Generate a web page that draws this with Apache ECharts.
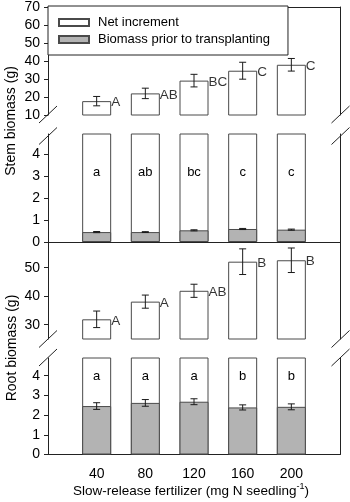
<!DOCTYPE html>
<html><head><meta charset="utf-8">
<script src="https://cdn.jsdelivr.net/npm/echarts@6/dist/echarts.min.js"></script>
<style>html,body{margin:0;padding:0;background:#fff}#c{width:350px;height:502px}</style>
</head><body><div id="c"></div>
<script>
// ---- data ----
const xValues = [40, 80, 120, 160, 200];
const xTickLabels = [40, 80, 120, 160, 200];
const stemTotal = [17.7, 22.0, 29.1, 34.6, 37.9];
const stemTotalErr = [2.6, 2.9, 3.5, 4.7, 3.5];
const stemPrior = [0.45, 0.45, 0.53, 0.59, 0.56];
const stemPriorErr = [0.025, 0.02, 0.025, 0.025, 0.025];
const stemTotalLetters = ['A', 'AB', 'BC', 'C', 'C'];
const stemPriorLetters = ['a', 'ab', 'bc', 'c', 'c'];
const rootTotal = [31.9, 38.1, 41.9, 52.1, 52.6];
const rootTotalErr = [2.9, 2.3, 2.3, 4.5, 4.3];
const rootPrior = [2.46, 2.62, 2.68, 2.39, 2.42];
const rootPriorErr = [0.17, 0.17, 0.15, 0.13, 0.15];
const rootTotalLetters = ['A', 'A', 'AB', 'B', 'B'];
const rootPriorLetters = ['a', 'a', 'a', 'b', 'b'];
const stemUpperTicks = [10, 20, 30, 40, 50, 60, 70];
const lowerTicks = [0, 1, 2, 3, 4];
const rootUpperTicks = [30, 40, 50];

const FF = '"Liberation Sans", Arial, sans-serif';
const AX = '#222';
const BORDER = '#4a4a4a';
const GRAY = '#b3b3b3';
const NET = 'Net increment';
const PRIOR = 'Biomass prior to transplanting';

const grids = [
  {left: 48, top: 6, width: 292, height: 109},
  {left: 48, top: 134, width: 292, height: 108},
  {left: 48, top: 242, width: 292, height: 97},
  {left: 48, top: 358, width: 292, height: 96.5}
];
const yRanges = [[10, 70, stemUpperTicks], [0, 4.9, lowerTicks], [25, 59, rootUpperTicks], [0, 4.9, lowerTicks]];

const xAxes = grids.map((g, i) => ({
  type: 'value', gridIndex: i, min: 0, max: 240,
  position: i === 0 ? 'top' : 'bottom',
  axisLine: {show: i !== 2, onZero: false, lineStyle: {color: AX}},
  axisTick: {show: false},
  splitLine: {show: false},
  axisLabel: i === 3 ? {show: true, customValues: xTickLabels, margin: 13, color: '#000', fontSize: 14, fontFamily: FF} : {show: false}
}));
const yAxes = [];
yRanges.forEach((r, i) => {
  yAxes.push({
    type: 'value', gridIndex: i, min: r[0], max: r[1], position: 'left',
    axisLine: {show: true, onZero: false, lineStyle: {color: AX}},
    axisTick: {show: true, length: 4, customValues: r[2], lineStyle: {color: AX}},
    axisLabel: {customValues: r[2], margin: 8, color: '#000', fontSize: 14, fontFamily: FF},
    splitLine: {show: false}
  });
  yAxes.push({
    type: 'value', gridIndex: i, min: r[0], max: r[1], position: 'right',
    axisLine: {show: true, onZero: false, lineStyle: {color: AX}},
    axisTick: {show: false}, axisLabel: {show: false}, splitLine: {show: false}
  });
});

function errSeries(gi, vals, errs) {
  return {
    type: 'custom', xAxisIndex: gi, yAxisIndex: gi * 2, z: 5, silent: true,
    data: xValues.map((x, i) => [x, vals[i], errs[i]]),
    encode: {x: 0, y: 1},
    renderItem: function (params, api) {
      const x = api.value(0), y = api.value(1), e = api.value(2);
      const p1 = api.coord([x, y + e]), p2 = api.coord([x, y - e]);
      const hw = 3.5, st = {stroke: '#1a1a1a', lineWidth: 1};
      return {type: 'group', children: [
        {type: 'line', shape: {x1: p1[0], y1: p1[1], x2: p2[0], y2: p2[1]}, style: st},
        {type: 'line', shape: {x1: p1[0] - hw, y1: p1[1], x2: p1[0] + hw, y2: p1[1]}, style: st},
        {type: 'line', shape: {x1: p2[0] - hw, y1: p2[1], x2: p2[0] + hw, y2: p2[1]}, style: st}
      ]};
    }
  };
}
function netBars(gi, totals, innerLetters, dist) {
  return {
    type: 'bar', name: NET, xAxisIndex: gi, yAxisIndex: gi * 2, barWidth: 29, barGap: '-100%',
    clip: true,
    itemStyle: {color: '#fff', borderColor: BORDER, borderWidth: 1},
    label: innerLetters ? {show: true, position: 'insideTop', distance: dist, color: '#000', fontSize: 13, fontFamily: FF,
      formatter: p => innerLetters[p.dataIndex]} : {show: false},
    data: xValues.map((x, i) => [x, totals[i]])
  };
}
function priorBars(gi, vals) {
  return {
    type: 'bar', name: PRIOR, xAxisIndex: gi, yAxisIndex: gi * 2, barWidth: 29, barGap: '-100%',
    clip: true,
    itemStyle: {color: GRAY, borderColor: BORDER, borderWidth: 1},
    data: xValues.map((x, i) => [x, vals[i]])
  };
}
function letterSeries(gi, totals, letters) {
  return {
    type: 'scatter', xAxisIndex: gi, yAxisIndex: gi * 2, symbolSize: 1, silent: true, z: 6,
    itemStyle: {color: 'transparent'},
    label: {show: true, position: 'right', distance: 14, offset: [0, 1.5], color: '#000', fontSize: 13.5, fontFamily: FF,
      formatter: p => letters[p.dataIndex]},
    data: xValues.map((x, i) => [x, totals[i]])
  };
}

const series = [
  netBars(0, stemTotal, null),
  errSeries(0, stemTotal, stemTotalErr),
  letterSeries(0, stemTotal, stemTotalLetters),
  netBars(1, stemTotal, stemPriorLetters, 32),
  priorBars(1, stemPrior),
  errSeries(1, stemPrior, stemPriorErr),
  netBars(2, rootTotal, null),
  errSeries(2, rootTotal, rootTotalErr),
  letterSeries(2, rootTotal, rootTotalLetters),
  netBars(3, rootTotal, rootPriorLetters, 12),
  priorBars(3, rootPrior),
  errSeries(3, rootPrior, rootPriorErr)
];

function slash(cx, cy) {
  return {type: 'line', z: 100, shape: {x1: cx - 9, y1: cy + 8.5, x2: cx + 9, y2: cy - 8.5}, style: {stroke: AX, lineWidth: 1}};
}
const graphics = [
  slash(48, 114.5), slash(48, 136), slash(340.5, 114.5), slash(340.5, 136),
  slash(48, 339), slash(48, 357.5), slash(340.5, 339), slash(340.5, 357.5),
  {type: 'text', x: 11, y: 121, rotation: Math.PI / 2,
    style: {text: 'Stem biomass (g)', font: '14px ' + FF, fill: '#000', align: 'center', verticalAlign: 'middle'}},
  {type: 'text', x: 12, y: 348, rotation: Math.PI / 2,
    style: {text: 'Root biomass (g)', font: '14px ' + FF, fill: '#000', align: 'center', verticalAlign: 'middle'}},
  {type: 'text', x: 191, y: 491,
    style: {text: 'Slow-release fertilizer (mg N seedling{sup|-1})', fontSize: 13.5, fontFamily: FF, fill: '#000',
      align: 'center', verticalAlign: 'middle', lineHeight: 17,
      rich: {sup: {fontSize: 9, fontFamily: FF, fill: '#000', verticalAlign: 'top', lineHeight: 10}}}}
];

const chart = echarts.init(document.getElementById('c'), null, {renderer: 'canvas'});
chart.setOption({
  animation: false,
  backgroundColor: '#fff',
  textStyle: {fontFamily: FF},
  grid: grids,
  xAxis: xAxes,
  yAxis: yAxes,
  legend: {
    data: [NET, PRIOR], left: 48, top: 6, orient: 'vertical', selectedMode: false,
    padding: [10, 18, 9, 10], itemGap: 4, itemWidth: 30, itemHeight: 7, icon: 'rect',
    backgroundColor: '#fff', borderColor: AX, borderWidth: 1,
    textStyle: {fontSize: 13, color: '#000', fontFamily: FF, padding: [0, 0, 0, 4]}
  },
  series: series,
  graphic: graphics
});
</script></body></html>
